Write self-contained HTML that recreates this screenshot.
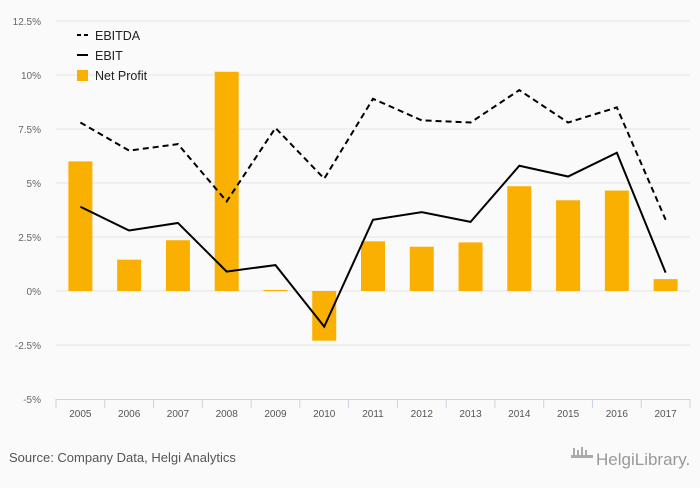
<!DOCTYPE html>
<html><head><meta charset="utf-8">
<style>
body{margin:0;background:#fafafa;font-family:"Liberation Sans",sans-serif;}
svg text{font-family:"Liberation Sans",sans-serif;}
</style></head>
<body>
<svg id="chart" width="700" height="483">
<rect width="700" height="483" fill="#fafafa"/>
<g id="grid"></g><g id="bars"></g><g id="lines"></g><g id="axis"></g>
<g>
<line x1="77" y1="35" x2="88" y2="35" stroke="#000" stroke-width="2" stroke-dasharray="4,3"/>
<text x="95" y="40" font-size="12.5" fill="#222">EBITDA</text>
<line x1="77" y1="55" x2="88" y2="55" stroke="#000" stroke-width="2"/>
<text x="95" y="60" font-size="12.5" fill="#222">EBIT</text>
<rect x="77" y="70" width="11" height="11" fill="#f9b000"/>
<text x="95" y="80" font-size="12.5" fill="#222">Net Profit</text>
</g>
<text x="9" y="462" font-size="13" fill="#555">Source: Company Data, Helgi Analytics</text>
<text x="596" y="465" font-size="17" fill="#999" font-family="Liberation Serif">HelgiLibrary.</text>
<g fill="#aaa"><rect x="571" y="455" width="22" height="3"/><rect x="573" y="448" width="2" height="8"/><rect x="577" y="450" width="2" height="6"/><rect x="581" y="447" width="2" height="9"/><rect x="585" y="450" width="2" height="6"/></g>
</svg>
<script>
const years=["2005","2006","2007","2008","2009","2010","2011","2012","2013","2014","2015","2016","2017"];
const netProfit=[6.0,1.45,2.35,10.15,0.05,-2.3,2.3,2.05,2.25,4.85,4.2,4.65,0.55];
const ebit=[3.9,2.8,3.15,0.9,1.2,-1.65,3.3,3.65,3.2,5.8,5.3,6.4,0.85];
const ebitda=[7.8,6.5,6.8,4.15,7.55,5.2,8.9,7.9,7.8,9.3,7.8,8.5,3.3];
const yTicks=[-5,-2.5,0,2.5,5,7.5,10,12.5];
const yTickLabels=["-5%","-2.5%","0%","2.5%","5%","7.5%","10%","12.5%"];
const NS="http://www.w3.org/2000/svg";
const L=56,R=690,T=21,B=399;
const bw=(R-L)/years.length;
const x=i=>L+bw*(i+0.5);
const y=v=>T+(12.5-v)/17.5*(B-T);
function mk(tag,attrs,parent){const e=document.createElementNS(NS,tag);for(const k in attrs)e.setAttribute(k,attrs[k]);document.getElementById(parent).appendChild(e);return e;}
yTicks.forEach((t,i)=>{
 if(t>-5){const g=mk('line',{x1:L,x2:R,y1:y(t),y2:y(t),stroke:'#e4e4e4','stroke-width':1},'grid');
 
 }
 const tx=mk('text',{x:41,y:y(t)+4,'text-anchor':'end','font-size':10,fill:'#666'},'axis');tx.textContent=yTickLabels[i];
 
 
});
const ax=mk('line',{x1:L,x2:R,y1:B+0.5,y2:B+0.5,stroke:'#c8d4e4'},'axis');


for(let i=0;i<=years.length;i++){const tk=mk('line',{x1:L+bw*i,x2:L+bw*i,y1:B,y2:B+9,stroke:'#c8d4e4'},'axis');
 
 }
years.forEach((yr,i)=>{
 const tx=mk('text',{x:x(i),y:B+18,'text-anchor':'middle','font-size':10,fill:'#555'},'axis');tx.textContent=yr;
 
 
 const v=netProfit[i];const w=24;
 const b=mk('rect',{x:x(i)-w/2,y:Math.min(y(v),y(0)),width:w,height:Math.max(Math.abs(y(v)-y(0)),1),fill:'#f9b000'},'bars');
 
 
});
const p1=mk('polyline',{points:ebitda.map((v,i)=>x(i)+','+y(v)).join(' '),fill:'none',stroke:'#000','stroke-width':2,'stroke-dasharray':'6,4'},'lines');


const p2=mk('polyline',{points:ebit.map((v,i)=>x(i)+','+y(v)).join(' '),fill:'none',stroke:'#000','stroke-width':2},'lines');


</script>
</body></html>
